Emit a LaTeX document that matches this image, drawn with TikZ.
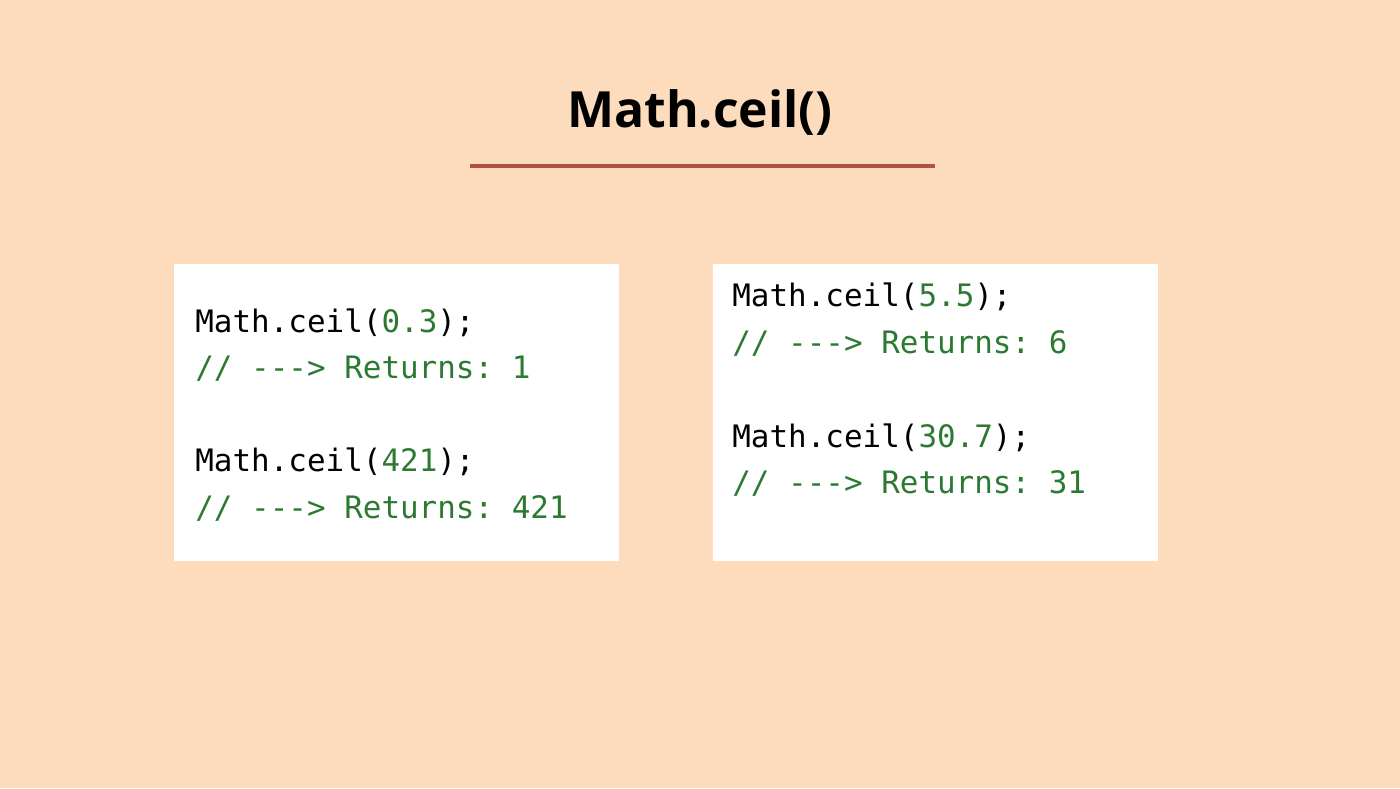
\documentclass[tikz,border=0pt]{standalone}
\usepackage{fontspec}
\setmainfont{Open Sans}
\setmonofont{DejaVu Sans Mono}
\usepackage{xcolor}
\usetikzlibrary{positioning}

\definecolor{peach}{RGB}{252,220,188}
\definecolor{codegreen}{RGB}{44,122,50}
\definecolor{rulered}{RGB}{176,82,64}

\newcommand{\codenum}[1]{\textcolor{codegreen}{#1}}
\newcommand{\coderet}[1]{\textcolor{codegreen}{//~-{}-{}->~Returns:~#1}}

\begin{document}
\begin{tikzpicture}[
    x=0.02cm, y=-0.02cm,
    title/.style={font=\fontsize{28.4}{32}\selectfont\bfseries, text=black, inner sep=0pt, anchor=base},
    codebox/.style={rectangle, fill=white, draw=none, minimum width=8.9cm, minimum height=5.94cm, inner sep=0pt, anchor=north west},
    code/.style={font=\fontsize{17.6}{20}\ttfamily, inner sep=0pt, anchor=base west}
]

% Background
\fill[peach] (0,0) rectangle (1400,788);
\useasboundingbox (0,0) rectangle (1400,788);

% Title and rule
\node[title] (head) at (700,127) {Math.ceil()};
\coordinate (ruleL) at (470,166);
\coordinate (ruleR) at (935,166);
\draw[rulered, line width=0.094cm] (ruleL) -- (ruleR);

% Left box
\node[codebox] (boxL) at (174,264) {};
\node[code] (l1) at (195,332) {Math.ceil(\codenum{0.3});};
\node[code] (l2) at (195,378) {\coderet{1}};
\node[code] (l3) at (195,471) {Math.ceil(\codenum{421});};
\node[code] (l4) at (195,518) {\coderet{421}};

% Right box
\node[codebox] (boxR) at (713,264) {};
\node[code] (r1) at (732,306) {Math.ceil(\codenum{5.5});};
\node[code] (r2) at (732,353) {\coderet{6}};
\node[code] (r3) at (732,447) {Math.ceil(\codenum{30.7});};
\node[code] (r4) at (732,493) {\coderet{31}};

\end{tikzpicture}
\end{document}
